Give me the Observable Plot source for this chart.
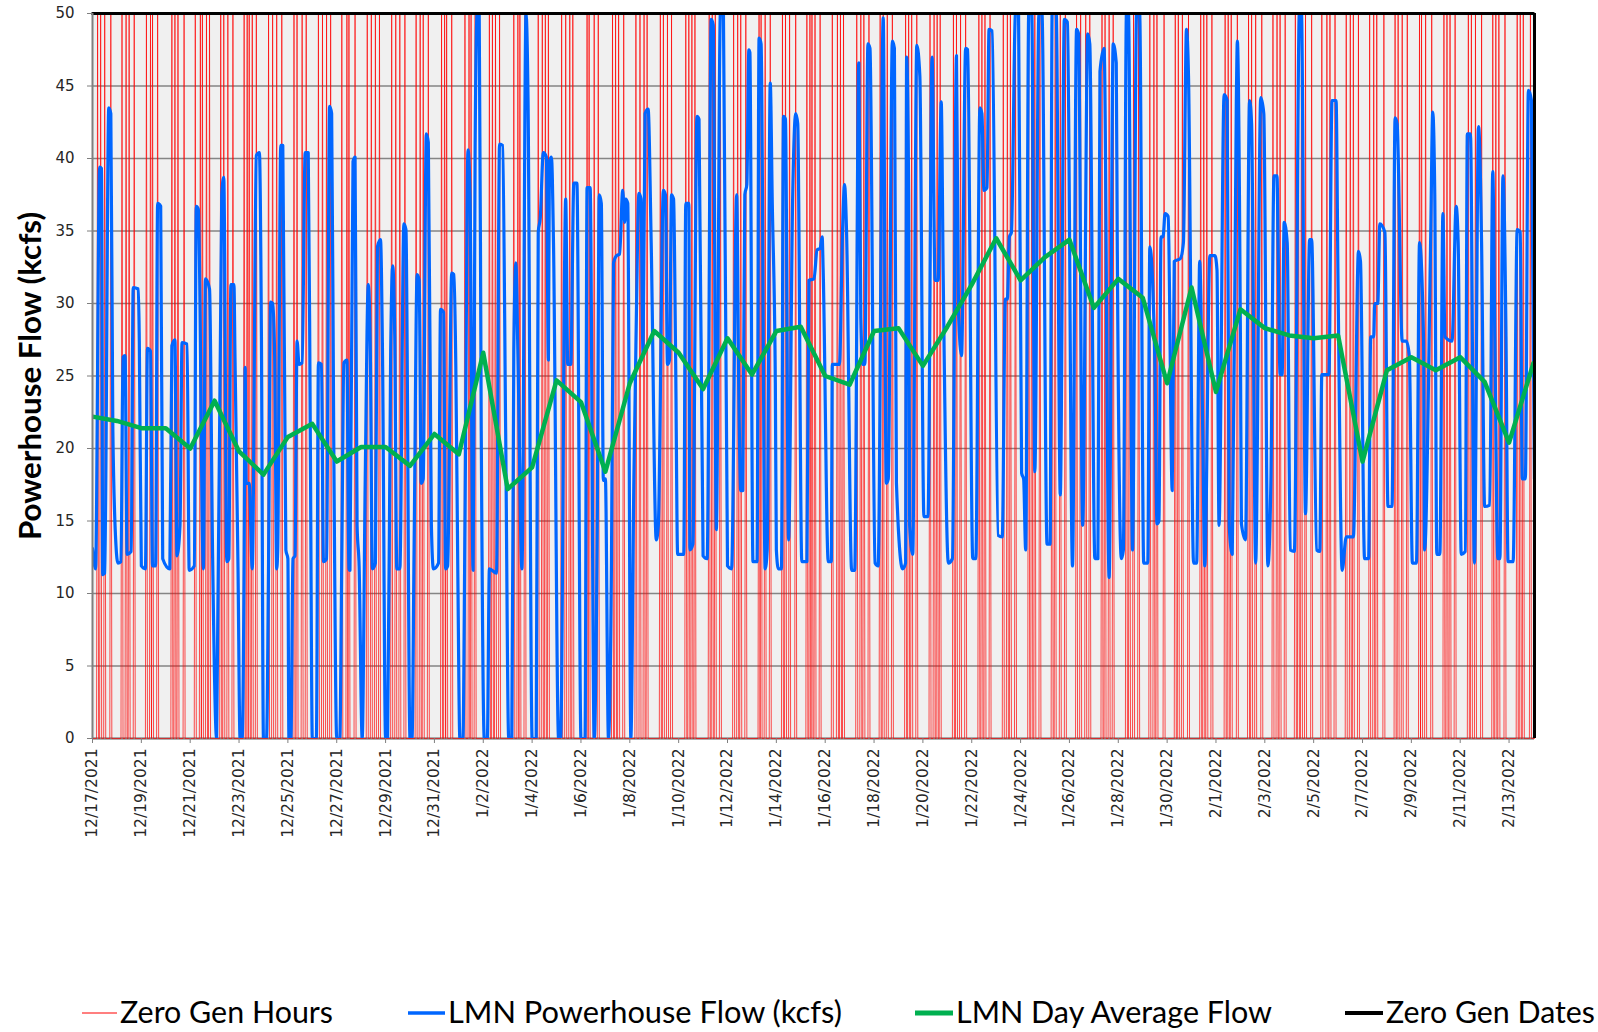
<!DOCTYPE html>
<html><head><meta charset="utf-8">
<script src="https://cdn.jsdelivr.net/npm/d3@7"></script>
<script src="https://cdn.jsdelivr.net/npm/@observablehq/plot@0.6"></script>
<style>
html,body{margin:0;padding:0;background:#fff;overflow:hidden;width:1598px;height:1032px;}
#chart svg,#legend svg{display:block;}
</style></head><body>
<div id="chart"></div>
<div id="legend"></div>
<script>
// ---------- DATA ----------
const START = "2021-12-17T00:00:00Z";
const END_HOUR = 1417; // hours after start where the axis ends

const tickLabels = ["12/17/2021","12/19/2021","12/21/2021","12/23/2021","12/25/2021","12/27/2021","12/29/2021","12/31/2021",
  "1/2/2022","1/4/2022","1/6/2022","1/8/2022","1/10/2022","1/12/2022","1/14/2022","1/16/2022","1/18/2022","1/20/2022",
  "1/22/2022","1/24/2022","1/26/2022","1/28/2022","1/30/2022","2/1/2022","2/3/2022","2/5/2022","2/7/2022","2/9/2022",
  "2/11/2022","2/13/2022"];

const yTicks = [0,5,10,15,20,25,30,35,40,45,50];

const dailyDates = ["2021-12-17","2021-12-18","2021-12-19","2021-12-20","2021-12-21","2021-12-22","2021-12-23","2021-12-24",
  "2021-12-25","2021-12-26","2021-12-27","2021-12-28","2021-12-29","2021-12-30","2021-12-31","2022-01-01","2022-01-02",
  "2022-01-03","2022-01-04","2022-01-05","2022-01-06","2022-01-07","2022-01-08","2022-01-09","2022-01-10","2022-01-11",
  "2022-01-12","2022-01-13","2022-01-14","2022-01-15","2022-01-16","2022-01-17","2022-01-18","2022-01-19","2022-01-20",
  "2022-01-21","2022-01-22","2022-01-23","2022-01-24","2022-01-25","2022-01-26","2022-01-27","2022-01-28","2022-01-29",
  "2022-01-30","2022-01-31","2022-02-01","2022-02-02","2022-02-03","2022-02-04","2022-02-05","2022-02-06","2022-02-07",
  "2022-02-08","2022-02-09","2022-02-10","2022-02-11","2022-02-12","2022-02-13","2022-02-14"];

// LMN Day Average Flow (kcfs), one per date above
const dayAverageFlow = [22.2,21.9,21.4,21.4,20.0,23.3,19.8,18.2,20.8,21.7,
  19.1,20.1,20.1,18.8,21.0,19.6,26.6,17.2,18.7,24.7,
  23.2,18.4,24.5,28.1,26.6,24.1,27.6,25.1,28.1,28.4,
  25.0,24.4,28.1,28.3,25.7,28.4,31.3,34.5,31.6,33.2,
  34.4,29.7,31.7,30.4,24.5,31.1,23.9,29.6,28.3,27.8,
  27.6,27.8,19.1,25.4,26.3,25.4,26.3,24.6,20.4,25.9];

// Zero Gen Dates series value (one per date)
const zeroGenDateValue = 50;

// Zero generation hours (hours after 12/17/2021 00:00)
const zeroGenHours = [5,8,12,18,29,33,36,41,53,57,59,64,78,81,84,90,101,106,108,112,115,126,129,133,138,149,152,154,157,161,
  173,177,181,186,198,201,206,210,222,226,230,234,
  245,250,252,258,270,274,278,282,294,298,302,307,318,322,325,330,343,346,348,353,366,370,372,376,390,393,396,400,
  414,418,420,425,438,442,445,448,461,465,469,
  472,486,488,493,497,511,514,517,522,534,538,542,545,558,561,565,569,583,586,589,592,606,609,612,617,630,634,637,642,
  655,657,661,666,678,681,685,691,702,705,
  707,710,715,727,732,735,738,751,755,758,763,774,777,781,786,799,802,805,810,823,827,830,833,846,849,853,858,871,874,
  877,882,895,899,902,907,920,923,926,931,
  943,946,951,956,967,971,976,980,992,995,999,1003,1016,1019,1023,1028,1039,1043,1046,1053,1064,1067,1071,1077,1089,
  1092,1095,1100,1113,1116,1119,1125,1136,1139,1143,1149,1160,1164,1167,1172,
  1182,1185,1188,1192,1198,1208,1213,1216,1221,1232,1236,1239,1244,1255,1259,1262,1269,1280,1283,1287,1292,1304,1306,
  1310,1316,1328,1331,1334,1339,1352,1355,1359,1365,1376,1379,1382,1388,1400,1403,1406,1413];

// LMN Powerhouse Flow (kcfs): [hour after start, kcfs] at the line's turning points
const flowPoints = [
[0,13.1],[3,11.7],[7,39.4],[9,39.3],[10,11.3],[12,11.4],[16,43.5],[18,43.1],[20,21.2],[23,13.4],[25,12.1],[28,12.2],
[30,26.3],[32,26.4],[34,12.7],[38,12.9],[40,31.1],[45,31.0],[46,27.4],[48,11.9],[52,11.7],[54,26.9],[57,26.7],[59,11.9],
[62,11.9],[64,36.9],[67,36.7],[69,12.4],[76,11.7],[78,27.1],[81,27.5],[83,12.6],[86,14.7],[88,27.3],[93,27.2],[95,11.6],
[100,11.9],[102,36.7],[104,36.5],[109,11.7],[111,31.7],[115,31.0],[118,12.7],[122,0],[127,37.5],[129,38.7],[132,12.2],
[134,12.4],[136,31.3],[139,31.3],[140,26.4],[143,11.7],[145,0],[147,0],[149,12.2],[150,25.6],[151,17.6],[154,17.6],
[157,11.7],[161,40.2],[164,40.4],[166,27.7],[168,0],[171,0],[173,12.1],[175,30.1],[177,30.0],[179,26.4],[181,11.7],
[182,13.0],[185,40.9],[187,40.9],[190,13.0],[192,12.4],[193,0],[195,0],[197,12.4],[199,12.6],[201,27.4],[203,25.8],
[206,25.9],[209,40.4],[212,40.4],[214,21.2],[216,0],[220,0],[222,25.9],[225,25.8],[227,12.2],[230,12.4],[233,43.6],
[235,43.1],[237,21.2],[240,0],[243,0],[245,12.7],[247,25.9],[250,26.1],[252,11.7],[253,11.6],[256,39.8],[258,40.1],
[260,14.7],[262,11.9],[265,0],[268,17.9],[271,31.3],[273,26.7],[275,11.7],[278,12.1],[280,33.9],[283,34.4],[285,26.4],
[288,0],[290,0],[293,26.7],[295,32.6],[297,27.7],[299,11.7],[302,11.7],[306,35.5],[308,35.1],[312,0],[314,0],[316,13.0],
[319,32.0],[321,31.6],[323,17.6],[325,17.9],[328,41.7],[330,41.1],[333,14.7],[335,11.7],[340,12.1],[342,29.6],[345,29.4],
[347,11.7],[349,11.9],[353,32.1],[355,32.0],[357,25.8],[359,11.4],[361,0],[364,0],[366,14.7],[369,40.6],[371,37.5],
[374,11.6],[376,40.8],[378,50],[380,50],[382,21.2],[385,0],[388,0],[390,11.7],[397,11.4],[400,41.0],[403,40.9],[406,21.2],
[409,0],[412,0],[414,26.7],[416,32.8],[418,26.7],[422,11.7],[426,50],[428,44.0],[432,0],[436,0],[438,34.9],[440,35.9],
[443,40.4],[446,40.1],[448,26.1],[449,39.8],[451,40.1],[453,34.2],[458,0],[460,0],[465,37.2],[467,25.8],
[470,25.8],[473,38.3],[476,38.3],[480,0],[484,0],[486,38.0],[489,38.0],[493,0],[496,14.7],[498,37.5],[500,36.9],[502,17.8],
[504,17.9],[507,0],[510,12.4],[512,32.8],[515,33.3],[518,33.4],[521,37.8],[523,35.6],[524,37.2],[526,36.9],[529,0],
[532,17.9],[534,27.1],[537,37.6],[539,37.2],[541,26.4],[543,43.1],[546,43.4],[549,34.2],[554,13.7],[556,14.7],[561,37.8],
[563,37.5],[565,25.8],[567,26.1],[569,37.5],[571,37.2],[573,26.4],[575,12.7],[581,12.7],[583,36.9],[586,36.9],[587,13.0],
[590,13.4],[594,42.9],[596,42.7],[600,12.6],[604,12.4],[608,49.6],[610,49.2],[613,14.4],[617,50],[620,50],[624,11.9],
[628,11.7],[633,37.5],[635,24.5],[637,17.1],[639,17.1],[641,37.5],[643,38.2],[645,47.5],[646,47.3],[649,12.2],[653,12.2],
[655,48.3],[657,47.9],[661,11.7],[663,13.0],[666,45.2],[668,36.9],[671,24.5],[672,13.0],[674,11.7],[677,11.7],[679,42.9],
[681,42.7],[684,13.7],[688,37.2],[691,43.1],[693,42.4],[697,12.2],[702,12.2],[704,31.6],
[709,31.7],[712,33.7],[715,33.8],[717,34.6],[718,32.3],[723,12.2],[726,12.2],[727,25.8],[734,25.8],[737,34.9],[739,38.2],
[741,34.9],[746,11.6],[749,11.6],[753,46.6],[755,29.0],[757,25.8],[759,25.8],[762,47.9],[764,47.6],[769,12.1],[772,11.9],
[777,49.7],[780,17.6],[782,17.9],[786,48.1],[788,47.6],[790,17.6],[796,11.7],[799,12.1],[800,47.0],[802,37.5],[803,14.7],
[806,12.7],[810,47.8],[813,45.7],[817,15.3],[821,15.3],[825,47.0],[828,31.6],[831,31.6],[834,43.9],[836,31.6],[841,12.1],
[845,12.4],[849,47.1],[851,29.4],[854,26.4],[858,47.6],[860,47.5],[865,12.4],[868,12.4],[872,43.5],[874,43.1],[876,37.8],
[879,38.0],[881,48.9],[884,48.8],[890,14.0],[894,13.9],[897,30.3],[899,30.3],[901,34.6],[903,34.9],[907,50],[910,50],
[913,18.3],[915,17.9],[917,13.0],[920,50],[923,50],[926,18.4],[930,50],[933,50],[938,13.4],[941,13.4],
[943,50],[947,50],[951,16.8],[955,49.6],[958,49.4],[963,11.9],[967,48.9],[969,48.6],[973,14.7],[978,48.6],[980,47.9],
[985,12.4],[988,12.4],[990,46.0],[994,47.6],[999,11.1],[1003,47.9],[1006,46.6],[1007,34.2],[1011,12.4],[1013,13.0],
[1016,50],[1018,50],[1022,13.0],[1026,50],[1029,50],[1033,12.1],[1037,12.1],[1039,33.9],[1044,25.8],[1046,14.8],[1048,15.0],
[1050,34.6],[1052,34.6],[1054,36.2],[1057,36.0],[1061,17.1],[1063,32.9],[1069,33.1],[1072,34.2],[1075,48.9],[1077,45.7],
[1082,12.1],[1085,12.1],[1088,32.9],[1091,21.2],[1093,11.9],[1098,33.3],[1103,33.3],[1105,32.3],[1107,14.7],[1112,44.4],
[1115,44.0],[1117,14.7],[1120,12.7],[1124,44.0],[1125,48.1],[1128,27.7],[1129,14.8],[1133,13.7],[1137,44.0],[1139,42.4],
[1143,12.1],[1148,44.2],[1151,43.1],[1155,11.9],[1158,17.9],[1161,38.8],[1164,38.8],[1165,34.2],[1167,25.1],[1169,25.1],
[1171,35.6],[1174,34.2],
[1177,13.0],[1181,12.9],[1186,50],[1188,50],[1192,15.5],[1196,34.4],[1198,34.4],[1203,13.0],[1206,12.9],[1208,25.1],
[1215,25.1],[1218,44.0],[1222,44.0],[1224,31.0],[1228,11.6],[1232,13.9],[1239,13.9],[1244,33.6],[1246,32.9],[1250,12.4],
[1254,12.4],[1256,27.7],[1259,27.7],[1260,30.0],[1263,30.0],[1265,35.5],[1270,34.9],[1273,16.0],[1277,16.0],[1280,42.8],
[1282,42.4],[1287,27.4],[1291,27.4],[1294,26.4],[1297,12.1],[1301,12.1],[1304,34.2],[1308,27.4],[1309,13.0],[1315,34.6],
[1317,43.2],[1319,37.5],[1321,12.7],[1324,12.7],[1327,36.2],[1329,27.7],[1336,27.4],[1340,36.7],[1342,34.2],[1345,12.7],
[1349,12.9],[1351,41.7],[1354,41.7],[1358,12.1],[1362,42.2],[1365,34.2],[1368,16.0],[1373,16.1],[1376,39.1],[1378,27.7],
[1381,12.4],[1383,12.4],[1386,38.8],[1389,27.7],[1391,12.2],[1396,12.2],[1400,35.1],[1403,34.9],[1405,17.9],[1408,17.9],
[1411,44.7],[1414,44.0],[1417,17.9]];

// ---------- BUILD TABLES ----------
const t0 = new Date(START).getTime();
const hourToDate = h => new Date(t0 + h * 3600e3);
const flowData = flowPoints.map(([h, v]) => ({date: hourToDate(h), flow: v}));
const zeroSet = new Set(zeroGenHours);
const zeroHourData = d3.range(0, END_HOUR + 1).map(h => ({date: hourToDate(h), value: zeroSet.has(h) ? 50 : 0}));
const avgData = dailyDates.map((d, i) => ({date: new Date(d + "T00:00:00Z"), flow: dayAverageFlow[i]}));
const zeroDateData = dailyDates.map(d => ({date: new Date(d + "T00:00:00Z"), value: zeroGenDateValue}));
const xDomain = [hourToDate(0), hourToDate(END_HOUR)];
const parseTick = d3.utcParse("%m/%d/%Y");
const tickDates = tickLabels.map(s => parseTick(s));
const fmtTick = d3.utcFormat("%-m/%-d/%Y");

const chart = Plot.plot({
  width: 1598, height: 860,
  marginLeft: 92, marginRight: 64, marginTop: 13, marginBottom: 122,
  x: {type: "utc", domain: xDomain},
  y: {domain: [0, 50]},
  style: {fontFamily: "'DejaVu Sans', sans-serif", color: "#262626", background: "white", overflow: "visible"},
  marks: [
    Plot.frame({fill: "#f0f0f0", stroke: "none"}),
    Plot.gridY(yTicks, {stroke: "#858585", strokeOpacity: 1, strokeWidth: 1.4}),
    Plot.ruleY([0], {stroke: "#7f7f7f", strokeWidth: 2}),
    Plot.line(zeroHourData, {x: "date", y: "value", stroke: "#ff0000", strokeWidth: 0.7, strokeOpacity: 1}),
    Plot.line(flowData, {x: "date", y: "flow", curve: "monotone-x", stroke: "#0066ff", strokeWidth: 3.2, strokeLinejoin: "round", strokeLinecap: "round", clip: true}),
    Plot.line(avgData, {x: "date", y: "flow", stroke: "#00b050", strokeWidth: 4.5, strokeLinejoin: "round", clip: true}),
    Plot.line(zeroDateData, {x: "date", y: "value", stroke: "#000000", strokeWidth: 3}),
    Plot.ruleX([xDomain[1]], {stroke: "#000000", strokeWidth: 3}),
    Plot.ruleX([xDomain[0]], {stroke: "#7f7f7f", strokeWidth: 2}),
    Plot.axisY({ticks: yTicks, tickSize: 5, tickPadding: 13, fontSize: 15, label: null, stroke: "#7f7f7f"}),
    Plot.axisX({ticks: tickDates, tickFormat: fmtTick, tickRotate: -90, tickSize: 5, tickPadding: 5, fontSize: 15.5, label: null, stroke: "#7f7f7f"})
  ]
});
document.getElementById("chart").appendChild(chart);

// Y axis title
d3.select(chart).append("text")
  .attr("transform", "translate(41,376) rotate(-90)")
  .attr("text-anchor", "middle")
  .attr("font-family", "Lato, 'Open Sans', sans-serif")
  .attr("font-weight", "bold")
  .attr("font-size", 31)
  .attr("fill", "#000")
  .attr("textLength", 328)
  .attr("lengthAdjust", "spacingAndGlyphs")
  .text("Powerhouse Flow (kcfs)");

// ---------- LEGEND ----------
const legendItems = [
  {label: "Zero Gen Hours", color: "#ff0000", width: 1.2, x0: 82, x1: 117, tx: 120, tl: 213},
  {label: "LMN Powerhouse Flow (kcfs)", color: "#0066ff", width: 3.5, x0: 408, x1: 445, tx: 448, tl: 394},
  {label: "LMN Day Average Flow", color: "#00b050", width: 5, x0: 915, x1: 953, tx: 956, tl: 316},
  {label: "Zero Gen Dates", color: "#000000", width: 4, x0: 1345, x1: 1383, tx: 1386, tl: 209}
];
const leg = d3.select("#legend").append("svg").attr("width", 1598).attr("height", 172);
for (const it of legendItems) {
  leg.append("line").attr("x1", it.x0).attr("x2", it.x1).attr("y1", 153).attr("y2", 153)
    .attr("stroke", it.color).attr("stroke-width", it.width);
  leg.append("text").attr("x", it.tx).attr("y", 163)
    .attr("font-family", "Lato, 'Open Sans', sans-serif").attr("font-size", 30).attr("fill", "#000")
    .attr("textLength", it.tl).attr("lengthAdjust", "spacingAndGlyphs")
    .text(it.label);
}
</script>
</body></html>
